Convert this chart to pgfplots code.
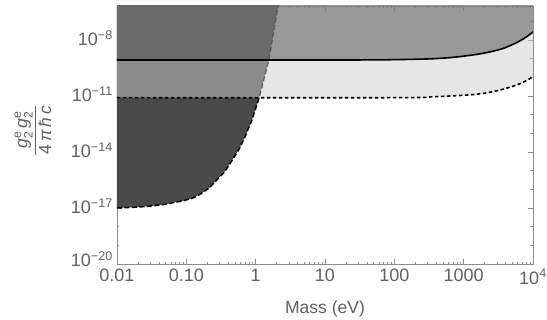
\documentclass[border=0pt]{standalone}
\usepackage{fontspec}
\setmainfont{Liberation Sans}
\usepackage{amsmath}
\usepackage{pgfplots}
\pgfplotsset{compat=1.18}
\definecolor{txt}{gray}{0.38}
\definecolor{framec}{gray}{0.55}
\definecolor{darkfill}{gray}{0.29}
\definecolor{lightfill}{gray}{0.804}
\definecolor{upperfill}{gray}{0.285}
\begin{document}
\begin{tikzpicture}
\useasboundingbox (-117pt,-56pt) rectangle (430pt,264pt);
\begin{axis}[
 at={(0pt,0pt)}, anchor=south west,
 scale only axis, width=416pt, height=258pt,
 xmode=log, ymode=log,
 xmin=0.01, xmax=10000, ymin=1e-20, ymax=6.6e-7,
 xtick={0.01,0.1,1,10,100,1000,10000},
 xticklabels={0.01,0.10,1,10,100,1000,10\textsuperscript{4}},
 ytick={1e-17,1e-14,1e-11,1e-8},
 yticklabels={10\textsuperscript{−17},10\textsuperscript{−14},10\textsuperscript{−11},10\textsuperscript{−8}},
 extra y ticks={1e-20},
 extra y tick labels={10\textsuperscript{−20}},
 extra y tick style={yticklabel style={yshift=3pt}},
 minor ytick={1e-19,1e-18,1e-16,1e-15,1e-13,1e-12,1e-10,1e-9,1e-7},
 /pgf/number format/assume math mode=true,
 tick label style={font=\fontsize{18}{21}\selectfont, text=txt, inner sep=1pt},
 xticklabel style={yshift=-4pt},
 yticklabel style={yshift=1.5pt, xshift=-3pt},
 axis line style={framec},
 every tick/.style={framec},
 major tick length=5pt, minor tick length=2.5pt,
 xlabel={Mass (eV)},
 xlabel style={at={(axis description cs:0.5,-0.175)}, anchor=center, font=\fontsize{17.5}{21}\selectfont, text=txt},
 ylabel={$\dfrac{\textit{g}^{\text{e}}_{\text{2}}\,\textit{g}^{\text{e}}_{\text{2}}}{\text{4\,\textit{π}\,\textit{ħ}\,\textit{c}}}$},
 ylabel style={at={(axis description cs:-0.202,0.519)}, anchor=center, font=\fontsize{17.5}{21}\selectfont, text=txt},
]
% dark region (left of boundary curve)
\addplot[draw=none, fill=darkfill] coordinates {
 (0.01,1.0e-17) (0.02,1.12e-17) (0.03,1.26e-17) (0.05,1.58e-17) (0.093,2.5e-17)
 (0.126,3.5e-17) (0.16,5.6e-17) (0.21,1.12e-16) (0.275,3.2e-16) (0.35,7.9e-16)
 (0.43,2.5e-15) (0.575,1.4e-14) (0.70,6.3e-14) (0.88,5.0e-13) (1.12,7.9e-12)
 (1.55,8.9e-10) (2.1,6.6e-7) (2.3,6.3e-6) (0.01,6.3e-6)} -- cycle;
\addplot[black, line width=1.5pt, dash pattern=on 5pt off 2.5pt] coordinates {
 (0.01,1.0e-17) (0.02,1.12e-17) (0.03,1.26e-17) (0.05,1.58e-17) (0.093,2.5e-17)
 (0.126,3.5e-17) (0.16,5.6e-17) (0.21,1.12e-16) (0.275,3.2e-16) (0.35,7.9e-16)
 (0.43,2.5e-15) (0.575,1.4e-14) (0.70,6.3e-14) (0.88,5.0e-13) (1.12,7.9e-12)
 (1.55,8.9e-10) (2.1,6.6e-7) (2.3,6.3e-6)};
% light band above dotted line
\addplot[draw=none, fill=lightfill, fill opacity=0.5] coordinates {
 (0.01,8.1e-12) (100,8.1e-12) (366,9.1e-12) (1112,1.12e-11) (1932,1.38e-11)
 (3365,2.1e-11) (5848,3.9e-11) (7943,6.5e-11) (10000,1.07e-10)
 (10000,1e-5) (0.01,1e-5)} -- cycle;
% upper band above solid line
\addplot[draw=none, fill=upperfill, fill opacity=0.49] coordinates {
 (0.01,8.5e-10) (30,8.5e-10) (100,8.84e-10) (300,9.6e-10) (500,1.06e-9) (700,1.17e-9)
 (1000,1.36e-9) (1500,1.66e-9) (2000,2.0e-9) (3000,2.8e-9) (4000,3.9e-9)
 (6000,7.65e-9) (8000,1.44e-8) (10000,2.72e-8)
 (10000,1e-5) (0.01,1e-5)} -- cycle;
% dotted line
\addplot[black, line width=1.6pt, dash pattern=on 3.5pt off 2.5pt, smooth] coordinates {
 (0.01,8.1e-12) (100,8.1e-12) (366,9.1e-12) (1112,1.12e-11) (1932,1.38e-11)
 (3365,2.1e-11) (5848,3.9e-11) (7943,6.5e-11) (10000,1.07e-10)};
% solid line
\addplot[black, line width=1.6pt, smooth] coordinates {
 (0.01,8.5e-10) (30,8.5e-10) (100,8.84e-10) (300,9.6e-10) (500,1.06e-9) (700,1.17e-9)
 (1000,1.36e-9) (1500,1.66e-9) (2000,2.0e-9) (3000,2.8e-9) (4000,3.9e-9)
 (6000,7.65e-9) (8000,1.44e-8) (10000,2.72e-8)};
\end{axis}
\end{tikzpicture}
\end{document}
